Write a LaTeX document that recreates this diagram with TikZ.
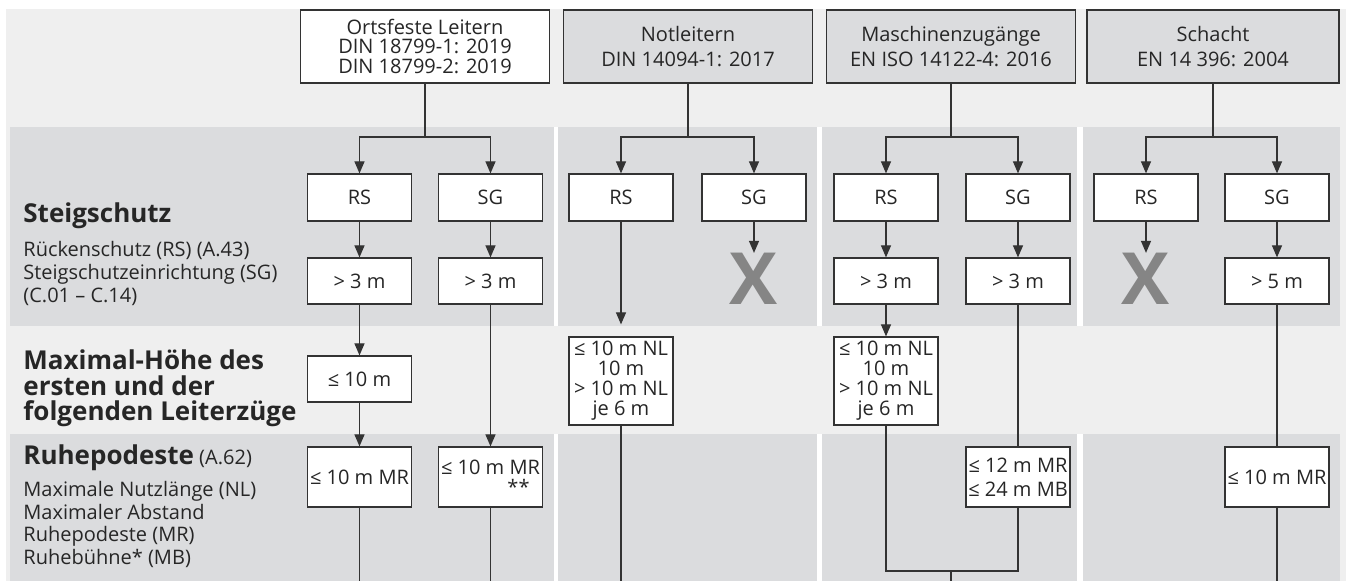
\documentclass[tikz,border=0pt]{standalone}
\usepackage{fontspec}
\setmainfont{Open Sans}
\usetikzlibrary{arrows.meta}
\definecolor{bglight}{HTML}{EFEFEF}
\definecolor{bandgray}{HTML}{DBDCDE}
\definecolor{linegray}{HTML}{333333}
\definecolor{txtcol}{HTML}{262626}
\definecolor{xgray}{HTML}{858585}
\newcommand{\bxf}{\fontsize{10pt}{10pt}\selectfont}
\newcommand{\hdf}{\fontsize{13pt}{13pt}\selectfont\bfseries}
\tikzstyle{box} = [draw=linegray, line width=0.6pt, fill=white, minimum width=52pt, inner sep=1pt, align=center, font=\bxf]
\tikzstyle{head} = [box, minimum width=124.5pt, minimum height=36.5pt]
\tikzstyle{arrow} = [draw=linegray, line width=0.6pt, -{Triangle[length=6pt,width=5pt]}]
\tikzstyle{link} = [draw=linegray, line width=0.6pt]
\tikzstyle{lbl} = [anchor=base west, inner sep=0pt, font=\bxf]

\begin{document}
\begin{tikzpicture}[x=0.5pt, y=-0.5pt, text=txtcol]
  \useasboundingbox (0,0) rectangle (1346,581);
  % background, column bands
  \fill[bglight] (6,9) rectangle (1346,581);
  \foreach \a/\b in {10/554, 558/817, 822/1077, 1083/1340} {
    \fill[bandgray] (\a,127) rectangle (\b,326);
    \fill[bandgray] (\a,434) rectangle (\b,581);
  }
  \foreach \a/\b in {554/558, 817/822, 1077/1083} {
    \fill[white] (\a,127) rectangle (\b,326);
    \fill[white] (\a,434) rectangle (\b,581);
  }
  \coordinate (branch) at (0,137);
  \coordinate (bot) at (0,581);

  % row labels, one node per line
  \node[lbl, font=\hdf] (steig-head) at (23,223) {Steigschutz};
  \foreach \t [count=\i] in {Rückenschutz (RS) (A.43), Steigschutzeinrichtung (SG), (C.01 – C.14)}
    \node[lbl] (steig-\i) at (23,{257+23*(\i-1)}) {\t};
  \foreach \t [count=\i] in {Maximal-Höhe des, ersten und der, folgenden Leiterzüge}
    \node[lbl, font=\hdf] (max-\i) at (23,{370+25.5*(\i-1)}) {\t};
  \node[lbl] (ruhe-head) at (23,465) {{\hdf Ruhepodeste} (A.62)};
  \foreach \t [count=\i] in {Maximale Nutzlänge (NL), Maximaler Abstand, Ruhepodeste (MR), Ruhebühne* (MB)}
    \node[lbl] (ruhe-\i) at (23,{497+22.5*(\i-1)}) {\t};

  % headers
  \node[head] (h-ort) at (425,46.5) {Ortsfeste Leitern\\DIN 18799-1: 2019\\DIN 18799-2: 2019};
  \node[head, fill=bandgray] (h-not) at (688,46.5) {Notleitern\\[2.5pt]DIN 14094-1: 2017};
  \node[head, fill=bandgray] (h-mas) at (951,46.5) {Maschinenzugänge\\[2.5pt]EN ISO 14122-4: 2016};
  \node[head, fill=bandgray, minimum width=126pt] (h-sch) at (1213,46.5) {Schacht\\[2.5pt]EN 14 396: 2004};

  % RS / SG
  \node[box, minimum height=23.5pt] (ort-rs) at (359.5,197.5) {RS};
  \node[box, minimum height=23.5pt] (ort-sg) at (490.5,197.5) {SG};
  \node[box, minimum height=23.5pt] (not-rs) at (621,197.5) {RS};
  \node[box, minimum height=23.5pt] (not-sg) at (754,197.5) {SG};
  \node[box, minimum height=23.5pt] (mas-rs) at (886,197.5) {RS};
  \node[box, minimum height=23.5pt] (mas-sg) at (1018,197.5) {SG};
  \node[box, minimum height=23.5pt] (sch-rs) at (1146,197.5) {RS};
  \node[box, minimum height=23.5pt] (sch-sg) at (1277,197.5) {SG};

  % minimum heights
  \node[box, minimum height=23pt] (ort-rs3) at (359.5,281) {> 3 m};
  \node[box, minimum height=23pt] (ort-sg3) at (490.5,281) {> 3 m};
  \node[inner sep=0pt, text=xgray, font=\fontsize{36pt}{36pt}\selectfont\bfseries] (not-x) at (754,279) {X};
  \node[box, minimum height=23pt] (mas-rs3) at (886,281) {> 3 m};
  \node[box, minimum height=23pt] (mas-sg3) at (1018,281) {> 3 m};
  \node[inner sep=0pt, text=xgray, font=\fontsize{36pt}{36pt}\selectfont\bfseries] (sch-x) at (1146,279) {X};
  \node[box, minimum height=23pt] (sch-sg5) at (1277,281) {> 5 m};

  % ladder sections
  \node[box, minimum height=23pt] (ort-max) at (359.5,379) {≤ 10 m};
  \node[box, minimum height=44pt] (not-nl) at (621,381) {≤ 10 m NL\\10 m\\> 10 m NL\\je 6 m};
  \node[box, minimum height=44pt] (mas-nl) at (886,381) {≤ 10 m NL\\10 m\\> 10 m NL\\je 6 m};

  % rest platforms
  \node[box, minimum height=30pt] (ort-rs-mr) at (359.5,477) {≤ 10 m MR};
  \node[box, minimum height=30pt] (ort-sg-mr) at (490.5,477) {≤ 10 m MR\\\hspace*{28pt}**};
  \node[box, minimum height=30pt] (mas-mr) at (1018,477) {≤ 12 m MR\\[2pt]≤ 24 m MB};
  \node[box, minimum height=30pt] (sch-mr) at (1277,477) {≤ 10 m MR};

  % connectors
  \foreach \c in {ort,not,mas,sch} {
    \draw[link] (h-\c) -- (h-\c |- branch);
    \draw[arrow] (h-\c |- branch) -| (\c-rs);
    \draw[arrow] (h-\c |- branch) -| (\c-sg);
  }
  \draw[arrow] (ort-rs) -- (ort-rs3);
  \draw[arrow] (ort-sg) -- (ort-sg3);
  \draw[arrow] (ort-rs3) -- (ort-max);
  \draw[arrow] (ort-max) -- (ort-rs-mr);
  \draw[arrow] (ort-sg3) -- (ort-sg-mr);
  \draw[link] (ort-rs-mr) -- (ort-rs-mr |- bot);
  \draw[link] (ort-sg-mr) -- (ort-sg-mr |- bot);
  \draw[arrow, shorten >=6pt] (not-rs) -- (not-nl);
  \draw[arrow] (not-sg) -- (not-x);
  \draw[link] (not-nl) -- (not-nl |- bot);
  \draw[arrow] (mas-rs) -- (mas-rs3);
  \draw[arrow] (mas-sg) -- (mas-sg3);
  \draw[arrow] (mas-rs3) -- (mas-nl);
  \draw[link] (mas-sg3) -- (mas-mr);
  \coordinate (mas-join) at (951,571);
  \draw[link] (mas-nl) |- (mas-join) -| (mas-mr);
  \draw[link] (mas-join) -- (mas-join |- bot);
  \draw[arrow] (sch-rs) -- (sch-x);
  \draw[arrow] (sch-sg) -- (sch-sg5);
  \draw[link] (sch-sg5) -- (sch-mr);
  \draw[link] (sch-mr) -- (sch-mr |- bot);
\end{tikzpicture}
\end{document}
